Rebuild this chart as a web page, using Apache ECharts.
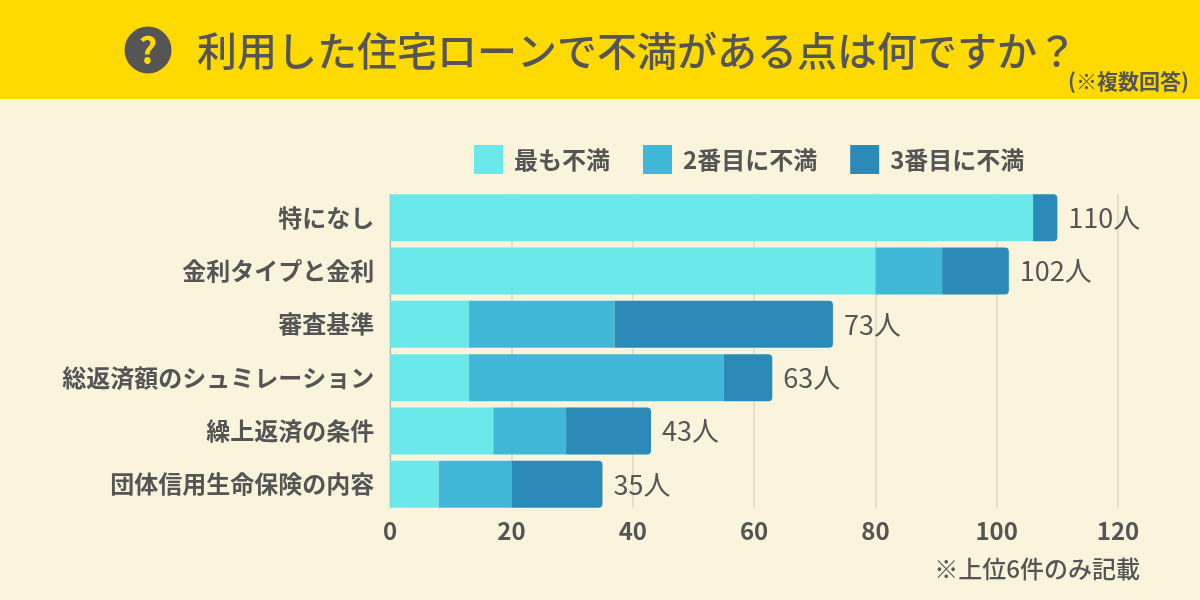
<!DOCTYPE html>
<html><head><meta charset="utf-8">
<style>html,body{margin:0;padding:0;background:#fbf4dc}#c{width:1200px;height:600px}</style>
<script src="https://cdn.jsdelivr.net/npm/echarts@6/dist/echarts.min.js"></script>
</head><body><div id="c"></div>
<script>
const categories = ['特になし','金利タイプと金利','審査基準','総返済額のシュミレーション','繰上返済の条件','団体信用生命保険の内容'];
const seriesNames = ['最も不満','2番目に不満','3番目に不満'];
const first = [106,80,13,13,17,8];
const second = [0,11,24,42,12,12];
const third = [4,11,36,8,14,15];
const totals = [110,102,73,63,43,35];
const colors = ['#6ae8ea','#41b8d8','#2c8ab9'];
const ink = '#555555';
const bg = '#fbf4dc';
const font = '"Noto Sans CJK JP"';
const chart = echarts.init(document.getElementById('c'), null, {renderer:'canvas'});
const vals = [first,second,third];
chart.setOption({
  animation:false,
  backgroundColor:bg,
  textStyle:{fontFamily:font},
  title:[
    {text:'利用した住宅ローンで不満がある点は何ですか？',left:192,top:26,textStyle:{fontFamily:font,fontSize:40,fontWeight:500,color:ink}},
    {text:'(※複数回答)',right:6,top:66,textStyle:{fontFamily:font,fontSize:21,fontWeight:700,color:ink}},
    {text:'※上位6件のみ記載',right:55,top:552,textStyle:{fontFamily:font,fontSize:24,fontWeight:500,color:ink}}
  ],
  legend:{
    left:474,top:145,padding:0,itemWidth:29,itemHeight:29,itemGap:33,icon:'rect',
    itemStyle:{borderRadius:0},
    data:seriesNames,
    textStyle:{fontFamily:font,fontSize:24,fontWeight:700,color:ink,padding:[0,0,0,6]}
  },
  grid:{left:390.2,right:82,top:191,bottom:89,containLabel:false},
  xAxis:{type:'value',min:0,max:120,interval:20,
    axisLine:{show:false},axisTick:{show:false},
    splitLine:{lineStyle:{color:'#dcd8c6',width:1.5}},
    axisLabel:{fontFamily:font,fontSize:24,fontWeight:700,color:ink,margin:8}},
  yAxis:{type:'category',inverse:true,data:categories,
    axisLine:{lineStyle:{color:'#b5b2a4',width:1}},axisTick:{show:false},
    axisLabel:{fontFamily:font,fontSize:24,fontWeight:700,color:ink,margin:16}},
  series:seriesNames.map((n,i)=>({
    name:n,type:'bar',stack:'a',barWidth:47,data:vals[i],
    itemStyle:{color:colors[i],borderRadius:i===2?[0,4,4,0]:0},
    label:i===2?{show:true,position:'right',distance:11,fontFamily:font,fontSize:27,fontWeight:400,color:ink,
      formatter:p=>totals[p.dataIndex]+'人'}:{show:false}
  })),
  graphic:[
    {type:'rect',z:-1,shape:{x:0,y:0,width:1200,height:99},style:{fill:'#ffda00'},silent:true},
    {type:'rect',z:1,shape:{x:380,y:188,width:760,height:6},style:{fill:bg},silent:true},
    {type:'rect',z:1,shape:{x:380,y:508,width:760,height:5},style:{fill:bg},silent:true},
    {type:'circle',shape:{cx:148,cy:50,r:23.5},style:{fill:ink},silent:true},
    {type:'text',x:148,y:50,style:{text:'?',fill:'#ffda00',fontFamily:font,fontSize:36,fontWeight:700,align:'center',verticalAlign:'middle'},silent:true}
  ]
});
</script></body></html>
